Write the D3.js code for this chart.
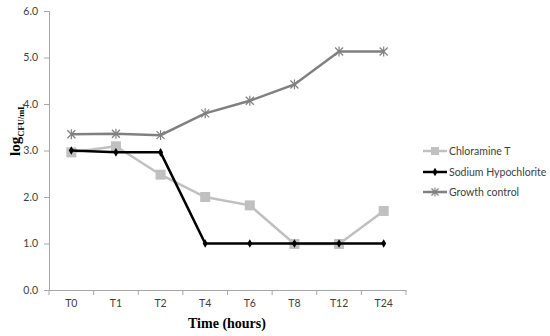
<!DOCTYPE html>
<html><head><meta charset="utf-8">
<script src="https://cdn.jsdelivr.net/npm/d3@7"></script>
<style>body{margin:0;background:#fff}svg{display:block}</style>
</head><body>
<svg id="c" width="550" height="336"></svg>
<script>
const categories = ["T0","T1","T2","T4","T6","T8","T12","T24"];
const chloramine = [2.96, 3.09, 2.48, 2.0, 1.82, 0.99, 0.99, 1.70];
const sodium = [3.0, 2.96, 2.96, 1.0, 1.0, 1.0, 1.0, 1.0];
const growth = [3.35, 3.36, 3.33, 3.80, 4.07, 4.42, 5.13, 5.13];
const yTicks = [0,1,2,3,4,5,6];
const seriesNames = ["Chloramine T","Sodium Hypochlorite","Growth control"];

const svg = d3.select("#c");
const x = d3.scaleBand().domain(categories).range([49, 406]);
const y = d3.scaleLinear().domain([0,6]).range([290, 11]);
const axisColor = "#a6a6a6";
const font = "Lato, sans-serif";

// y axis
const ya = svg.append("g").attr("transform","translate(49,0)")
  .call(d3.axisLeft(y).tickValues(yTicks).tickFormat(d3.format(".1f")).tickSize(5).tickPadding(6));
ya.select(".domain").attr("stroke", axisColor);
ya.selectAll(".tick line").attr("stroke", axisColor);
ya.selectAll("text").attr("font-family", font).attr("font-size", 10.5).attr("fill","#404040");

// x axis
const xa = svg.append("g").attr("transform","translate(0,290)")
  .call(d3.axisBottom(x).tickSize(0).tickPadding(10));
xa.select(".domain").attr("stroke", axisColor);
xa.selectAll("text").attr("font-family", font).attr("font-size", 10.5).attr("fill","#404040");
const bounds = categories.map(c => x(c)).concat([x(categories[categories.length-1]) + x.bandwidth()]);
svg.append("g").selectAll("line").data(bounds).join("line")
  .attr("x1", d=>d).attr("x2", d=>d).attr("y1", 290).attr("y2", 295)
  .attr("stroke", axisColor);

const cx = c => x(c) + x.bandwidth()/2;
const line = d3.line().x((d,i)=>cx(categories[i])).y(d=>y(d));

// growth control
const gcColor = "#808080";
svg.append("path").datum(growth).attr("d", line).attr("fill","none").attr("stroke", gcColor).attr("stroke-width", 2.5);
function star(g, px, py, r, col){
  const s = r;
  g.append("line").attr("x1",px-s).attr("x2",px+s).attr("y1",py-s).attr("y2",py+s).attr("stroke",col).attr("stroke-width",1.2);
  g.append("line").attr("x1",px-s).attr("x2",px+s).attr("y1",py+s).attr("y2",py-s).attr("stroke",col).attr("stroke-width",1.2);
  g.append("line").attr("x1",px).attr("x2",px).attr("y1",py-s-1).attr("y2",py+s+1).attr("stroke",col).attr("stroke-width",1.2);
}
const gcg = svg.append("g");
growth.forEach((v,i)=>star(gcg, cx(categories[i]), y(v), 4, gcColor));

// chloramine
const chColor = "#c0c0c0";
svg.append("path").datum(chloramine).attr("d", line).attr("fill","none").attr("stroke", chColor).attr("stroke-width", 2.5);
svg.append("g").selectAll("rect").data(chloramine).join("rect")
  .attr("x",(d,i)=>cx(categories[i])-5).attr("y",d=>y(d)-5).attr("width",10).attr("height",10).attr("fill", chColor);

// sodium
svg.append("path").datum(sodium).attr("d", line).attr("fill","none").attr("stroke", "#000").attr("stroke-width", 2.5);
svg.append("g").selectAll("path").data(sodium).join("path")
  .attr("d", d3.symbol(d3.symbolDiamond, 22))
  .attr("transform",(d,i)=>`translate(${cx(categories[i])},${y(d)})`).attr("fill","#000");

// legend
const leg = svg.append("g");
const ly = [151, 172, 192];
const lcol = [chColor, "#000", gcColor];
seriesNames.forEach((n,i)=>{
  leg.append("line").attr("x1",423).attr("x2",447).attr("y1",ly[i]).attr("y2",ly[i]).attr("stroke",lcol[i]).attr("stroke-width",2.5);
  leg.append("text").attr("x",449).attr("y",ly[i]+4).text(n).attr("font-family",font).attr("font-size",10.5).attr("fill","#404040");
});
leg.append("rect").attr("x",431).attr("y",ly[0]-4).attr("width",8).attr("height",8).attr("fill",chColor);
leg.append("path").attr("d", d3.symbol(d3.symbolDiamond, 22)).attr("transform",`translate(435,${ly[1]})`).attr("fill","#000");
star(leg, 435, ly[2], 3.5, gcColor);

// axis titles
svg.append("text").attr("x", 227).attr("y", 328).attr("text-anchor","middle")
  .attr("font-family","'Liberation Serif', serif").attr("font-weight","bold").attr("font-size",14).attr("fill","#000")
  .text("Time (hours)");
const yt = svg.append("text").attr("transform","translate(20,130) rotate(-90)").attr("text-anchor","middle")
  .attr("font-family","'Liberation Serif', serif").attr("font-weight","bold").attr("fill","#000");
yt.append("tspan").attr("font-size",15).text("log");
yt.append("tspan").attr("font-size",8.5).attr("dy",4).text("CFU/mL");
</script>
</body></html>
